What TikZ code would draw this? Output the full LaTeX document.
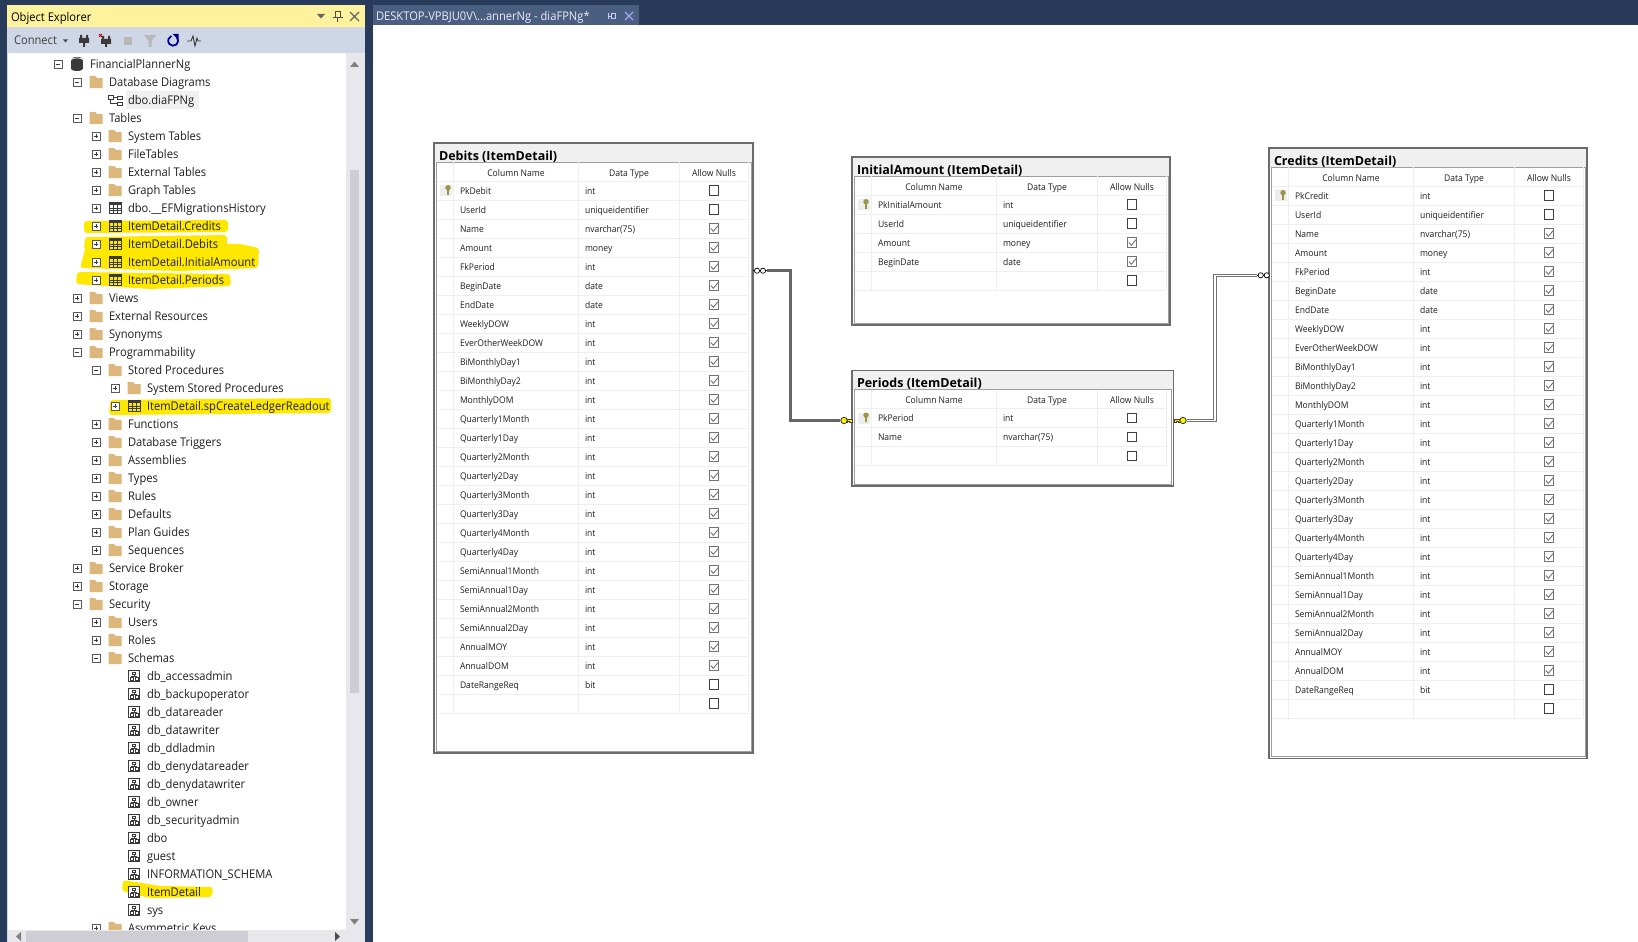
\documentclass[tikz,border=0pt]{standalone}
\usepackage{fontspec}
\setmainfont{Open Sans}
\newfontfamily\uifont[FakeStretch=0.93]{Open Sans}
\usetikzlibrary{positioning}

\definecolor{navybg}{HTML}{293B5A}
\definecolor{tabblue}{HTML}{4A5E80}
\definecolor{paneyellow}{HTML}{FFF29D}
\definecolor{barblue}{HTML}{CFD6E5}
\definecolor{barbg}{HTML}{E8E8EC}
\definecolor{barthumb}{HTML}{CDCDD3}
\definecolor{marker}{HTML}{FFE800}
\definecolor{foldertan}{HTML}{DCB67A}
\definecolor{darktext}{HTML}{1E1E1E}
\definecolor{iconink}{HTML}{3A3A3A}
\definecolor{gridline}{HTML}{EFEFEF}
\definecolor{keyyellow}{HTML}{FFF200}

\tikzset{
	treelabel/.style={anchor=base west, inner sep=0, outer sep=0, text=darktext, font=\uifont\fontsize{12}{14}\selectfont},
	rowlabel/.style={anchor=base west, inner sep=0, outer sep=0, text=darktext, font=\uifont\fontsize{9.2}{11}\selectfont},
	headlabel/.style={anchor=base, inner sep=0, outer sep=0, text=darktext, font=\uifont\fontsize{9.2}{11}\selectfont},
	titlelabel/.style={anchor=base west, inner sep=0, outer sep=0, text=black, font=\fontsize{12.5}{15}\selectfont\bfseries},
	tablebox/.style={draw=black!58, line width=1.1pt, fill=white, anchor=north west, inner sep=0, outer sep=0},
	signbox/.style={draw=black!65, fill=white, line width=0.8pt},
	relthick/.style={draw=black!60, line width=3pt},
	relthin/.style={draw=black!55, double=white, line width=0.9pt, double distance=1.3pt},
	markerfill/.style={fill=marker, draw=none, rounded corners=3pt},
	panelabel/.style={anchor=base west, inner sep=0, outer sep=0, font=\uifont\fontsize{12}{14}\selectfont}
}

% tree icons, drawn round (\ix,\iy)
\newcommand{\iconn}{}
\newcommand{\iconf}{\fill[foldertan] (\ix-6.5,\iy-6) -- (\ix-1,\iy-6) -- (\ix+1,\iy-4) -- (\ix+6.5,\iy-4) -- (\ix+6.5,\iy+6) -- (\ix-6.5,\iy+6) -- cycle;}
\newcommand{\icont}{%
	\draw[iconink, line width=0.8pt] (\ix-6,\iy-5.5) rectangle (\ix+6.5,\iy+5.5);
	\fill[iconink] (\ix-6,\iy-5.5) rectangle (\ix+6.5,\iy-3);
	\draw[iconink, line width=0.8pt] (\ix-1.8,\iy-5) -- (\ix-1.8,\iy+5.5) (\ix+2.3,\iy-5) -- (\ix+2.3,\iy+5.5) (\ix-6,\iy) -- (\ix+6.5,\iy) (\ix-6,\iy+2.8) -- (\ix+6.5,\iy+2.8);}
\newcommand{\icons}{%
	\draw[iconink, line width=1.1pt, fill=white] (\ix-5.7,\iy-5.7) rectangle (\ix+5.7,\iy+5.7);
	\draw[iconink, line width=0.6pt] (\ix-1.5,\iy-4) rectangle (\ix+1.5,\iy-1.5) (\ix-4,\iy+1.5) rectangle (\ix-1,\iy+4) (\ix+1,\iy+1.5) rectangle (\ix+4,\iy+4) (\ix,\iy-1.5) -- (\ix,\iy+0.5) (\ix-2.5,\iy+1.5) -- (\ix-2.5,\iy+0.5) -- (\ix+2.5,\iy+0.5) -- (\ix+2.5,\iy+1.5);}
\newcommand{\icond}{%
	\fill[iconink] (\ix-6,\iy-4.5) rectangle (\ix+6,\iy+4.5);
	\fill[iconink] (\ix,\iy-4.5) ellipse (6 and 2.5);
	\fill[iconink] (\ix,\iy+4.5) ellipse (6 and 2.5);
	\draw[white, line width=0.7pt] (\ix-6,\iy-4) arc (180:360:6 and 2);}
\newcommand{\icong}{%
	\draw[iconink, line width=0.9pt] (\ix-7,\iy-5) rectangle (\ix-2,\iy-1) (\ix+2,\iy-1) rectangle (\ix+7,\iy-4) (\ix+2,\iy+2) rectangle (\ix+7,\iy+5.5) (\ix-2,\iy-3) -- (\ix+2,\iy-3) (\ix-4.5,\iy-1) -- (\ix-4.5,\iy+3.7) -- (\ix+2,\iy+3.7);}

% plus and minus boxes
\newcommand{\signn}{}
\newcommand{\signm}{%
	\draw[signbox] (\bx-4,\iy-4) rectangle (\bx+4,\iy+4);
	\draw[iconink, line width=0.8pt] (\bx-2.2,\iy) -- (\bx+2.2,\iy);}
\newcommand{\signp}{%
	\signm
	\draw[iconink, line width=0.8pt] (\bx,\iy-2.2) -- (\bx,\iy+2.2);}

% one table of the diagram: name, x, y, width, height, title, rows
\newcommand{\dbtable}[7]{%
	\begin{scope}[shift={(#2,#3)}]
		\node (#1) [tablebox, minimum width=#4pt, minimum height=#5pt] at (0,0) {};
		\fill[black!6] (0.6,0.6) rectangle (#4-0.6,19);
		\draw[black!38, line width=1pt, fill=white] (2.5,19) rectangle (#4-2,#5-2);
		\node (#1-title) [titlelabel] at (5,17) {#6};
		\draw[gridline, line width=1pt] (3,38) -- (314,38) (19,19) -- (19,38) (144,19) -- (144,38) (245,19) -- (245,38) (314,19) -- (314,38);
		\node (#1-headA) [headlabel] at (82,33) {Column Name};
		\node (#1-headB) [headlabel] at (195,33) {Data Type};
		\node (#1-headC) [headlabel] at (280,33) {Allow Nulls};
		\foreach \cn/\ct/\cc [count=\i] in #7 {
			\pgfmathsetmacro\rt{19+19*\i}
			\pgfmathsetmacro\rb{\rt+19}
			\pgfmathsetmacro\rc{\rt+9.5}
			\pgfmathsetmacro\rl{\rt+13}
			\draw[gridline, line width=1pt] (3,\rb) -- (314,\rb) (19,\rt) -- (19,\rb) (144,\rt) -- (144,\rb) (245,\rt) -- (245,\rb) (314,\rt) -- (314,\rb);
			\node (#1-col\i) [rowlabel] at (26,\rl) {\cn};
			\node (#1-typ\i) [rowlabel] at (151,\rl) {\ct};
			\ifnum\cc=1
				\draw[black!55, line width=0.9pt, fill=white] (275.2,\rc-4.7) rectangle (284.8,\rc+4.7);
				\draw[black!55, line width=0.9pt] (276.8,\rc) -- (279.3,\rc+2.8) -- (284,\rc-2.8);
			\else
				\draw[black!75, line width=0.9pt, fill=white] (275.2,\rc-4.7) rectangle (284.8,\rc+4.7);
			\fi
			\ifnum\i=1
				\fill[black!7] (6,\rc-5.5) rectangle (18,\rc+5.5);
				\fill[black!45!yellow] (14,\rc-2.8) circle (2.7);
				\fill[black!45!yellow] (13,\rc-1) rectangle (15,\rc+4);
			\fi
		}
	\end{scope}}

\newcommand{\sharedrows}{Name/nvarchar(75)/1,Amount/money/1,FkPeriod/int/1,BeginDate/date/1,EndDate/date/1,WeeklyDOW/int/1,EverOtherWeekDOW/int/1,BiMonthlyDay1/int/1,BiMonthlyDay2/int/1,MonthlyDOM/int/1,Quarterly1Month/int/1,Quarterly1Day/int/1,Quarterly2Month/int/1,Quarterly2Day/int/1,Quarterly3Month/int/1,Quarterly3Day/int/1,Quarterly4Month/int/1,Quarterly4Day/int/1,SemiAnnual1Month/int/1,SemiAnnual1Day/int/1,SemiAnnual2Month/int/1,SemiAnnual2Day/int/1,AnnualMOY/int/1,AnnualDOM/int/1,DateRangeReq/bit/0,{}/{}/0}
\edef\debitrows{PkDebit/int/0,UserId/uniqueidentifier/0,\sharedrows}
\edef\creditrows{PkCredit/int/0,UserId/uniqueidentifier/0,\sharedrows}
\newcommand{\initialrows}{PkInitialAmount/int/0,UserId/uniqueidentifier/0,Amount/money/1,BeginDate/date/1,{}/{}/0}
\newcommand{\periodrows}{PkPeriod/int/0,Name/nvarchar(75)/0,{}/{}/0}

\begin{document}
\begin{tikzpicture}[x=1pt, y=-1pt]
	\useasboundingbox (0,0) rectangle (1638,942);
	\fill[navybg] (0,0) rectangle (1638,942);

	% object explorer frame
	\fill[paneyellow] (7,5) rectangle (365,27);
	\fill[barblue] (7,27) rectangle (365,53);
	\fill[barblue] (7,53) rectangle (8,942);
	\fill[white] (8,53) rectangle (346,930);
	\fill[barbg] (346,53) rectangle (365,942);
	\fill[barthumb] (350,170) rectangle (359,693);
	\fill[black!50] (350,67) -- (354.5,61.5) -- (359,67) -- cycle;
	\fill[black!50] (350,919) -- (354.5,924.5) -- (359,919) -- cycle;

	\node (paneTitle) [panelabel, text=black] at (11,21.5) {Object Explorer};
	\fill[black!60] (317,14) -- (325,14) -- (321,18.5) -- cycle;
	\draw[black!70, line width=1pt] (335,12) rectangle (340,18) (332.5,18) -- (342.5,18) (337.5,18) -- (337.5,22);
	\draw[black!60, line width=1.2pt] (350,12) -- (359,21) (359,12) -- (350,21);

	\node (connect) [panelabel, text=black!75] at (14,45) {Connect};
	\fill[black!70] (63,39.5) -- (68,39.5) -- (65.5,42.5) -- cycle;
	\fill[iconink] (80,35) rectangle (82,38) (86,35) rectangle (88,38) (79,38) rectangle (89,43) (83,43) rectangle (85,47);
	\fill[iconink] (102,36) rectangle (104,39) (108,36) rectangle (110,39) (101,39) rectangle (111,44) (105,44) rectangle (107,47);
	\draw[red!70!black, line width=1pt] (99,34) -- (102,37) (102,34) -- (99,37);
	\fill[black!28] (124,37) rectangle (132,45);
	\fill[black!28] (144,35) -- (156,35) -- (151.5,41) -- (151.5,47) -- (148.5,47) -- (148.5,41) -- cycle;
	\draw[blue!55!black, line width=1.8pt] (177,37.5) arc (-40:250:5);
	\fill[blue!55!black] (172.5,34) -- (178.5,34) -- (178.5,40) -- cycle;
	\draw[iconink, line width=0.9pt] (187,41) -- (191,41) -- (193,36) -- (195,46) -- (197,38) -- (198,41) -- (201,41);

	% yellow pen marks
	\fill[markerfill] (84,221) -- (228,220) -- (228,232) -- (84,233) -- cycle;
	\fill[markerfill] (85,237) -- (227,235) -- (227,248) -- (84,250) -- cycle;
	\fill[markerfill] (86,246) -- (240,244) -- (259,248) -- (258,268) -- (180,271) -- (80,268) -- cycle;
	\fill[markerfill] (77,272) -- (230,274) -- (231,286) -- (150,289) -- (76,284) -- cycle;
	\fill[markerfill] (110,400) -- (331,398) -- (331,413) -- (109,415) -- cycle;
	\fill[markerfill] (123,880) -- (160,886) -- (213,887) -- (212,897) -- (150,898) -- (122,891) -- cycle;
	\fill[black!6] (126,91) rectangle (199,109);

	% the tree, one row per line
	\foreach \l/\s/\k/\t [count=\i from 0] in {
		0/m/d/FinancialPlannerNg,
		1/m/f/Database Diagrams,
		2/n/g/dbo.diaFPNg,
		1/m/f/Tables,
		2/p/f/System Tables,
		2/p/f/FileTables,
		2/p/f/External Tables,
		2/p/f/Graph Tables,
		2/p/t/dbo.\_\_EFMigrationsHistory,
		2/p/t/ItemDetail.Credits,
		2/p/t/ItemDetail.Debits,
		2/p/t/ItemDetail.InitialAmount,
		2/p/t/ItemDetail.Periods,
		1/p/f/Views,
		1/p/f/External Resources,
		1/p/f/Synonyms,
		1/m/f/Programmability,
		2/m/f/Stored Procedures,
		3/p/f/System Stored Procedures,
		3/p/t/ItemDetail.spCreateLedgerReadout,
		2/p/f/Functions,
		2/p/f/Database Triggers,
		2/p/f/Assemblies,
		2/p/f/Types,
		2/p/f/Rules,
		2/p/f/Defaults,
		2/p/f/Plan Guides,
		2/p/f/Sequences,
		1/p/f/Service Broker,
		1/p/f/Storage,
		1/m/f/Security,
		2/p/f/Users,
		2/p/f/Roles,
		2/m/f/Schemas,
		3/n/s/db\_accessadmin,
		3/n/s/db\_backupoperator,
		3/n/s/db\_datareader,
		3/n/s/db\_datawriter,
		3/n/s/db\_ddladmin,
		3/n/s/db\_denydatareader,
		3/n/s/db\_denydatawriter,
		3/n/s/db\_owner,
		3/n/s/db\_securityadmin,
		3/n/s/dbo,
		3/n/s/guest,
		3/n/s/INFORMATION\_SCHEMA,
		3/n/s/ItemDetail,
		3/n/s/sys,
		2/p/f/Asymmetric Keys} {
		\pgfmathsetmacro\iy{64+18*\i}
		\pgfmathsetmacro\bx{58+19*\l}
		\pgfmathsetmacro\ix{\bx+19}
		\pgfmathsetmacro\tx{\bx+32}
		\pgfmathsetmacro\ty{\iy+4.5}
		\csname sign\s\endcsname
		\csname icon\k\endcsname
		\node (tree\i) [treelabel] at (\tx,\ty) {\t};
	}

	% bottom scroll bar
	\fill[barbg] (8,930) rectangle (346,942);
	\fill[barthumb] (26,931) rectangle (248,942);
	\fill[black!50] (21,932) -- (16,936.5) -- (21,941) -- cycle;
	\fill[black!70] (335,932) -- (340,936.5) -- (335,941) -- cycle;

	% document tab and page
	\fill[tabblue] (373,5) rectangle (639,25);
	\fill[white] (373,25) rectangle (1638,942);
	\node (tabTitle) [panelabel, text=white!92!blue] at (376,21) {DESKTOP-VPBJU0V\textbackslash...annerNg - diaFPNg*};
	\draw[white!80!blue, line width=0.8pt] (608,13) -- (608,19) (608,16) -- (611,16) (611,13.5) rectangle (615,18.5);
	\draw[white!65!blue, line width=1.1pt] (625,12) -- (633,20) (633,12) -- (625,20);

	% tables
	\dbtable{debits}{434}{143}{319}{610}{Debits (ItemDetail)}{\debitrows}
	\dbtable{initial}{852}{157}{318}{168}{InitialAmount (ItemDetail)}{\initialrows}
	\dbtable{periods}{852}{370.5}{321.5}{115.5}{Periods (ItemDetail)}{\periodrows}
	\dbtable{credits}{1269}{148}{318}{610.5}{Credits (ItemDetail)}{\creditrows}

	% relations
	\coordinate (debitsEnd) at (753,270.7);
	\coordinate (debitsOut) at (767,270.7);
	\coordinate (periodsIn) at (840,420.5);
	\coordinate (periodsKeyL) at (852,420.5);
	\coordinate (periodsOut) at (1187,420.5);
	\coordinate (periodsKeyR) at (1173.5,420.5);
	\coordinate (creditsIn) at (1257,275.3);
	\coordinate (creditsEnd) at (1269,275.3);

	\draw[relthick, line cap=butt] (debitsOut) -- (790,270.7) -- (790,420.5) -- (periodsIn);
	\draw[relthin] (periodsOut) -- (1215,420.5) -- (1215,275.3) -- (creditsIn);

	\draw[black, line width=0.7pt] (debitsEnd) -- (debitsOut);
	\draw[black, line width=0.7pt, fill=white] (757,270.7) circle (2.6) (763,270.7) circle (2.6);
	\draw[black, line width=0.7pt] (creditsIn) -- (creditsEnd);
	\draw[black, line width=0.7pt, fill=white] (1260.7,275.3) circle (2.6) (1266.7,275.3) circle (2.6);

	\draw[black!75, line width=0.7pt, fill=keyyellow] (periodsKeyL) -- (852,418.9) -- (846,418.9) -- (846,422.3) -- (847.5,422.3) -- (847.5,421.4) -- (849,421.4) -- (849,422.3) -- (852,422.3) -- cycle;
	\draw[black!80, line width=0.8pt, fill=keyyellow] (844,420.5) circle (3.2);
	\draw[black!75, line width=0.7pt, fill=keyyellow] (1174,418.9) -- (1181,418.9) -- (1181,422.3) -- (1178,422.3) -- (1178,421.4) -- (1176.5,421.4) -- (1176.5,422.3) -- (1174,422.3) -- cycle;
	\draw[black!80, line width=0.8pt, fill=keyyellow] (1183,420.5) circle (3.2);
\end{tikzpicture}
\end{document}
